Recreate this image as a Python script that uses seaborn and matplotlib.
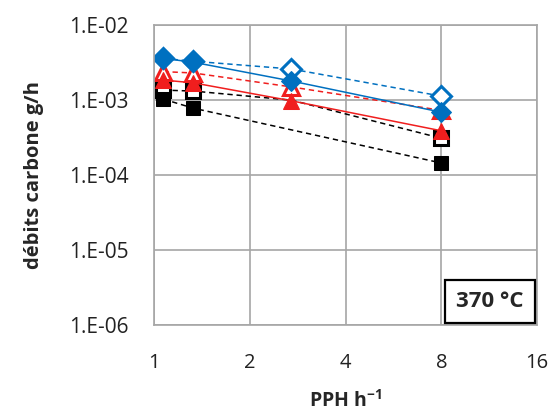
import matplotlib
matplotlib.use("Agg")
import matplotlib.pyplot as plt
import seaborn as sns
import pandas as pd

# PPH values (h-1)
pph = [1.07, 1.33, 2.7, 8]
pph_black_filled = [1.07, 1.33, 8]

# carbon flow rates (g/h)
blue_filled = [3.6e-3, 3.2e-3, 1.8e-3, 6.9e-4]
blue_open = [3.6e-3, 3.3e-3, 2.6e-3, 1.13e-3]
red_filled = [1.85e-3, 1.7e-3, 9.8e-4, 3.9e-4]
red_open = [2.4e-3, 2.3e-3, 1.5e-3, 7.3e-4]
black_open = [1.36e-3, 1.32e-3, 1.0e-3, 3.1e-4]
black_filled = [1.03e-3, 7.8e-4, 1.45e-4]

x_ticks = [1, 2, 4, 8, 16]
y_ticks = [1e-6, 1e-5, 1e-4, 1e-3, 1e-2]
y_labels = ["1.E-06", "1.E-05", "1.E-04", "1.E-03", "1.E-02"]

sns.set_style("white")
plt.rcParams["font.family"] = ["Open Sans", "DejaVu Sans"]
plt.rcParams["mathtext.fontset"] = "custom"
plt.rcParams["mathtext.bf"] = "Open Sans:bold"
plt.rcParams["mathtext.rm"] = "Open Sans"

fig = plt.figure(figsize=(5.56, 4.12), dpi=100)
ax = fig.add_axes([0.277, 0.211, 0.689, 0.728])

blue = "#0070C0"
red = "#F01E1E"
grey = "#A6A6A6"
dash = (3.5, 2.5)

# black series
sns.lineplot(x=pph, y=black_open, ax=ax, color="black", lw=1.1,
             linestyle=(0, dash), marker="s", markersize=10, markerfacecolor="white",
             markeredgecolor="black", markeredgewidth=2.2, markevery=[0, 1, 3], sort=False)
sns.lineplot(x=pph_black_filled, y=black_filled, ax=ax, color="black", lw=1.1,
             linestyle=(0, dash), marker="s", markersize=10, markerfacecolor="black",
             markeredgecolor="black", sort=False)

# red series
sns.lineplot(x=pph, y=red_open, ax=ax, color=red, lw=1.1, linestyle=(0, dash),
             marker="^", markersize=11, markerfacecolor="white", markeredgecolor=red,
             markeredgewidth=2.2, sort=False)
sns.lineplot(x=pph, y=red_filled, ax=ax, color=red, lw=1.1, marker="^", markersize=11,
             markerfacecolor=red, markeredgecolor=red, sort=False)

# blue series
sns.lineplot(x=pph, y=blue_open, ax=ax, color=blue, lw=1.1, linestyle=(0, dash),
             marker="D", markersize=10, markerfacecolor="white", markeredgecolor=blue,
             markeredgewidth=2.2, sort=False)
sns.lineplot(x=pph, y=blue_filled, ax=ax, color=blue, lw=1.1, marker="D", markersize=10,
             markerfacecolor=blue, markeredgecolor=blue, sort=False)

ax.set_xscale("log", base=2)
ax.set_yscale("log")
ax.set_xlim(1, 16)
ax.set_ylim(1e-6, 1e-2)
ax.set_xticks(x_ticks)
ax.set_xticklabels([str(v) for v in x_ticks])
ax.set_yticks(y_ticks)
ax.set_yticklabels(y_labels)
ax.minorticks_off()

ax.grid(True, which="major", color=grey, lw=1.2)
ax.set_axisbelow(True)
for s in ax.spines.values():
    s.set_color(grey)
    s.set_linewidth(1.2)

ax.tick_params(axis="y", which="major", length=5, color=grey, width=1.2,
               labelsize=15, labelcolor="#222222", pad=13)
ax.tick_params(axis="x", which="major", length=0, labelsize=14.5,
               labelcolor="#222222", pad=20)

ax.set_xlabel(r"PPH h$^{\mathbf{-1}}$", fontsize=14, fontweight="bold", labelpad=12)
ax.set_ylabel("débits carbone g/h", fontsize=14.5, fontweight="bold", labelpad=18)

ax.text(0.965, 0.043, "370 °C", transform=ax.transAxes, ha="right", va="bottom",
        fontsize=16, fontweight="bold",
        bbox=dict(boxstyle="square,pad=0.5", facecolor="white", edgecolor="black", lw=1.6))

fig.savefig("out.png", dpi=100)
